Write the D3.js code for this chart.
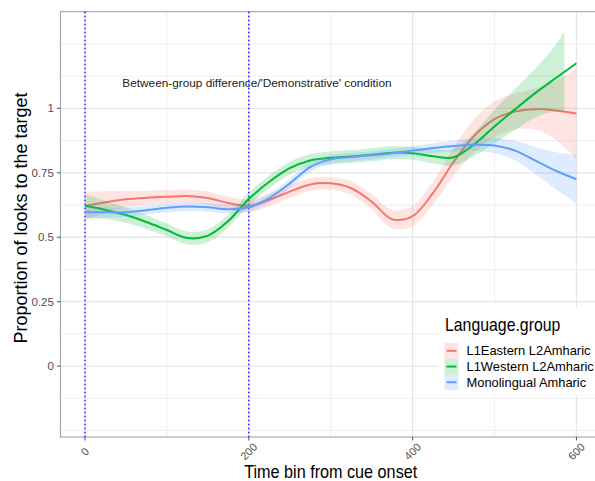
<!DOCTYPE html>
<html>
<head>
<meta charset="utf-8">
<script src="https://cdn.jsdelivr.net/npm/d3@7"></script>
<style>
  html, body { margin: 0; padding: 0; background: #fff; }
  svg { display: block; font-family: "Liberation Sans", Arial, Helvetica, sans-serif; }
</style>
</head>
<body>
<svg id="chart" width="595" height="481"></svg>
<script>
// Smoothed proportion of looks to the target, per time bin (fit and standard error band)
const timeBins = [0, 25, 50, 75, 100, 125, 150, 175, 200, 225, 250, 275, 300,
                  325, 350, 375, 400, 425, 450, 475, 500, 525, 550, 575, 600];

const easternFit = [0.621, 0.636, 0.647, 0.653, 0.657, 0.660, 0.652, 0.633, 0.622, 0.645, 0.677, 0.705, 0.709,
                    0.690, 0.638, 0.570, 0.582, 0.672, 0.792, 0.893, 0.958, 0.988, 0.997, 0.992, 0.980];
const easternSE  = [0.055, 0.042, 0.032, 0.027, 0.025, 0.025, 0.025, 0.025, 0.025, 0.025, 0.025, 0.025, 0.025,
                    0.026, 0.030, 0.036, 0.040, 0.045, 0.055, 0.065, 0.070, 0.070, 0.080, 0.115, 0.175];

const westernFit = [0.622, 0.606, 0.586, 0.559, 0.528, 0.497, 0.506, 0.563, 0.648, 0.715, 0.768, 0.798, 0.808,
                    0.813, 0.820, 0.828, 0.826, 0.814, 0.810, 0.860, 0.930, 0.996, 1.060, 1.118, 1.175];
const westernSE  = [0.045, 0.035, 0.030, 0.027, 0.025, 0.025, 0.025, 0.025, 0.025, 0.025, 0.025, 0.025, 0.025,
                    0.025, 0.025, 0.025, 0.025, 0.027, 0.032, 0.045, 0.065, 0.080, 0.095, 0.130, 0.200];

const monoFit = [0.598, 0.597, 0.597, 0.605, 0.614, 0.619, 0.616, 0.609, 0.616, 0.652, 0.709, 0.772, 0.802,
                 0.811, 0.818, 0.826, 0.836, 0.846, 0.854, 0.859, 0.856, 0.836, 0.797, 0.758, 0.725];
const monoSE  = [0.025, 0.020, 0.018, 0.017, 0.017, 0.017, 0.017, 0.017, 0.017, 0.017, 0.018, 0.018, 0.017,
                 0.016, 0.016, 0.016, 0.017, 0.019, 0.021, 0.024, 0.030, 0.038, 0.052, 0.072, 0.095];

const groupNames = ["L1Eastern L2Amharic", "L1Western L2Amharic", "Monolingual Amharic"];
const groupColors = ["#F8766D", "#00BA38", "#619CFF"];

const xBreaks = [0, 200, 400, 600];
const xMinorBreaks = [100, 300, 500];
const yBreaks = [0, 0.25, 0.5, 0.75, 1];
const yMinorBreaks = [-0.25, -0.125, 0.125, 0.375, 0.625, 0.875, 1.125, 1.25];
const yLimits = [-0.2, 1.3];
const markerLines = [0, 200];

const annotationText = "Between-group difference/'Demonstrative' condition";
const annotationPos = [210, 1.1];

const xTitle = "Time bin from cue onset";
const yTitle = "Proportion of looks to the target";
const legendTitle = "Language.group";

// ---- layout ----
const panel = { left: 60.4, right: 601, top: 11.7, bottom: 437 };
const expand = (lo, hi) => { const r = hi - lo; return [lo - 0.05 * r, hi + 0.05 * r]; };

const x = d3.scaleLinear()
  .domain(expand(d3.min(timeBins), d3.max(timeBins)))
  .range([panel.left, panel.right]);
const y = d3.scaleLinear()
  .domain(expand(yLimits[0], yLimits[1]))
  .range([panel.bottom, panel.top]);

const svg = d3.select("#chart");
svg.append("rect").attr("width", 595).attr("height", 481).attr("fill", "#fff");

// grid
const grid = svg.append("g");
grid.selectAll(".ymin").data(yMinorBreaks).join("line")
  .attr("x1", panel.left).attr("x2", panel.right)
  .attr("y1", d => y(d)).attr("y2", d => y(d))
  .attr("stroke", "#ebebeb").attr("stroke-width", 0.8);
grid.selectAll(".xmin").data(xMinorBreaks).join("line")
  .attr("y1", panel.top).attr("y2", panel.bottom)
  .attr("x1", d => x(d)).attr("x2", d => x(d))
  .attr("stroke", "#ebebeb").attr("stroke-width", 0.8);
grid.selectAll(".ymaj").data(yBreaks).join("line")
  .attr("x1", panel.left).attr("x2", panel.right)
  .attr("y1", d => y(d)).attr("y2", d => y(d))
  .attr("stroke", "#e6e6e6").attr("stroke-width", 1.3);
grid.selectAll(".xmaj").data(xBreaks).join("line")
  .attr("y1", panel.top).attr("y2", panel.bottom)
  .attr("x1", d => x(d)).attr("x2", d => x(d))
  .attr("stroke", "#e6e6e6").attr("stroke-width", 1.3);

// panel border
svg.append("rect")
  .attr("x", panel.left).attr("y", panel.top)
  .attr("width", panel.right - panel.left).attr("height", panel.bottom - panel.top)
  .attr("fill", "none").attr("stroke", "#9a9a9a").attr("stroke-width", 1);

// dotted markers at cue onset and 200
svg.selectAll(".marker").data(markerLines).join("line")
  .attr("x1", d => x(d)).attr("x2", d => x(d))
  .attr("y1", panel.top).attr("y2", panel.bottom)
  .attr("stroke", "#2020ff").attr("stroke-width", 1.5)
  .attr("stroke-dasharray", "1.6,2.4");

// annotation
svg.append("text")
  .attr("x", x(annotationPos[0])).attr("y", y(annotationPos[1]) + 4.5)
  .attr("text-anchor", "middle")
  .attr("font-size", 11.8).attr("fill", "#222")
  .text(annotationText);

// smooth bands and lines, drawn group by group
const series = [
  { fit: easternFit, se: easternSE },
  { fit: westernFit, se: westernSE },
  { fit: monoFit, se: monoSE }
];

const defs = svg.append("defs");
const curve = d3.curveCatmullRom.alpha(0.5);

series.forEach((s, i) => {
  const rows = timeBins.map((t, j) => ({ t, fit: s.fit[j], lo: s.fit[j] - s.se[j], hi: s.fit[j] + s.se[j] }));

  // band rows beyond the upper y limit are dropped: find where the band leaves the scale
  let cutX = d3.max(timeBins);
  for (let j = 1; j < rows.length; j++) {
    if (rows[j].hi > yLimits[1] && rows[j - 1].hi <= yLimits[1]) {
      const f = (yLimits[1] - rows[j - 1].hi) / (rows[j].hi - rows[j - 1].hi);
      cutX = rows[j - 1].t + f * (rows[j].t - rows[j - 1].t);
      break;
    }
  }
  const clipId = "band-clip-" + i;
  defs.append("clipPath").attr("id", clipId)
    .append("rect")
    .attr("x", 0).attr("y", 0)
    .attr("width", x(cutX)).attr("height", 481);

  const area = d3.area().curve(curve)
    .x(d => x(d.t)).y0(d => y(d.lo)).y1(d => y(d.hi));
  const line = d3.line().curve(curve)
    .x(d => x(d.t)).y(d => y(d.fit));

  svg.append("path").datum(rows)
    .attr("d", area)
    .attr("clip-path", `url(#${clipId})`)
    .attr("fill", groupColors[i]).attr("fill-opacity", 0.2);
  svg.append("path").datum(rows)
    .attr("d", line)
    .attr("fill", "none").attr("stroke", groupColors[i]).attr("stroke-width", 2);
});

// axes ticks and labels
const axisG = svg.append("g");
axisG.selectAll(".yt").data(yBreaks).join("line")
  .attr("x1", panel.left - 3.5).attr("x2", panel.left)
  .attr("y1", d => y(d)).attr("y2", d => y(d))
  .attr("stroke", "#555").attr("stroke-width", 1);
axisG.selectAll(".yl").data(yBreaks).join("text")
  .attr("x", panel.left - 6.5).attr("y", d => y(d))
  .attr("dy", "0.35em")
  .attr("text-anchor", "end")
  .attr("font-size", 11.5).attr("fill", "#4D4D4D")
  .text(d => d3.format("")(d));
axisG.selectAll(".xt").data(xBreaks).join("line")
  .attr("x1", d => x(d)).attr("x2", d => x(d))
  .attr("y1", panel.bottom).attr("y2", panel.bottom + 3.5)
  .attr("stroke", "#555").attr("stroke-width", 1);
axisG.selectAll(".xl").data(xBreaks).join("text")
  .attr("transform", d => `translate(${x(d)},${panel.bottom + 14.5}) rotate(-45)`)
  .attr("text-anchor", "middle")
  .attr("dy", "0.35em")
  .attr("font-size", 11).attr("fill", "#4D4D4D")
  .text(d => d);

// axis titles (the x title font runs a little narrow)
svg.append("text")
  .attr("transform", `translate(${(panel.left + panel.right) / 2},478) scale(0.9,1)`)
  .attr("text-anchor", "middle")
  .attr("font-size", 18).attr("fill", "#000")
  .text(xTitle);
svg.append("text")
  .attr("transform", `translate(26.5,218) rotate(-90)`)
  .attr("text-anchor", "middle")
  .attr("font-size", 18).attr("fill", "#000")
  .text(yTitle);

// legend
const legend = svg.append("g");
legend.append("rect")
  .attr("x", 438).attr("y", 307).attr("width", 170).attr("height", 88)
  .attr("fill", "#fff");
legend.append("text")
  .attr("transform", "translate(445,331) scale(0.9,1)")
  .attr("font-size", 17.6).attr("fill", "#000")
  .text(legendTitle);
const keyH = 15.7;
const keys = legend.selectAll(".key").data(groupNames).join("g")
  .attr("transform", (d, i) => `translate(444.5,${343 + i * keyH})`);
keys.append("rect")
  .attr("width", 14).attr("height", keyH)
  .attr("fill", (d, i) => groupColors[i]).attr("fill-opacity", 0.2);
keys.append("line")
  .attr("x1", 2).attr("x2", 12)
  .attr("y1", keyH / 2).attr("y2", keyH / 2)
  .attr("stroke", (d, i) => groupColors[i]).attr("stroke-width", 2);
keys.append("text")
  .attr("x", 22).attr("y", keyH / 2).attr("dy", "0.36em")
  .attr("font-size", 12.9).attr("fill", "#000")
  .text(d => d);
</script>
</body>
</html>
